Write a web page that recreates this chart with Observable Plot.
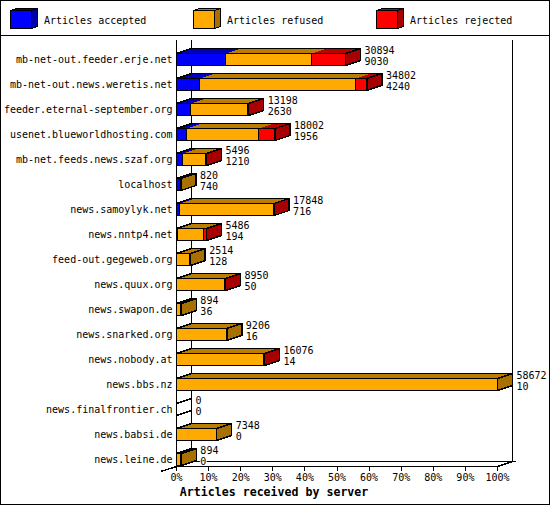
<!DOCTYPE html>
<html>
<head>
<meta charset="utf-8">
<script src="https://cdn.jsdelivr.net/npm/d3@7"></script>
<script src="https://cdn.jsdelivr.net/npm/@observablehq/plot@0.6"></script>
<style>
html, body { margin: 0; padding: 0; background: #fff; }
#page { position: relative; width: 550px; height: 505px; overflow: hidden; font-family: "DejaVu Sans Mono", monospace; font-size: 10px; color: #000; }
#legend { position: absolute; left: 0; top: 0; width: 550px; height: 36px; box-sizing: border-box; border-bottom: 1px solid #000; }
.key { position: absolute; top: 0; height: 35px; display: block; }
.key svg { position: absolute; left: 0; top: 0; }
.key span { position: absolute; left: 34px; top: 15px; line-height: 12px; white-space: nowrap; }
#chart { position: absolute; left: 0; top: 35px; }
#frame { position: absolute; inset: 0; box-sizing: border-box; border: 1px solid #000; pointer-events: none; }
</style>
</head>
<body>
<div id="page"><div id="legend"></div><div id="chart"></div><div id="frame"></div></div>
<script>
const servers = ["mb-net-out.feeder.erje.net","mb-net-out.news.weretis.net","feeder.eternal-september.org","usenet.blueworldhosting.com","mb-net.feeds.news.szaf.org","localhost","news.samoylyk.net","news.nntp4.net","feed-out.gegeweb.org","news.quux.org","news.swapon.de","news.snarked.org","news.nobody.at","news.bbs.nz","news.finalfrontier.ch","news.babsi.de","news.leine.de"];
const received = [30894,34802,13198,18002,5496,820,17848,5486,2514,8950,894,9206,16076,58672,0,7348,894];
const accepted = [9030,4240,2630,1956,1210,740,716,194,128,50,36,16,14,10,0,0,0];
const rejected = [6075,2000,40,2974,20,0,30,450,0,20,0,0,20,0,0,0,0];
const refused = received.map((r, i) => r - accepted[i] - rejected[i]);

const categories = ["Articles accepted","Articles refused","Articles rejected"];
const frontColors = ["#0000ff","#ffaa00","#ff0000"];
const topColors = ["#0000bb","#bb7d00","#bb0000"];
const sideColors = ["#0000a8","#a87000","#a80000"];
const legendLeft = [10, 193, 376];

const maxValue = d3.max(received);
const pct = v => v / maxValue * 100;
const depthX = 4.664;   // 15px of the 3-D depth, in percent
const depthY = 0.2;     // 5px of the 3-D depth, in rows
const barH = 0.48;
const yTop = -0.52, yBottom = 16.52;

// Legend
const legend = d3.select("#legend");
categories.forEach((c, k) => {
  const key = legend.append("div").attr("class", "key").style("left", legendLeft[k] + "px").style("width", "170px");
  const s = key.append("svg").attr("width", 30).attr("height", 35).attr("shape-rendering", "crispEdges");
  s.append("polygon").attr("points", "0.5,10.5 6.5,8.5 27.5,8.5 21.5,10.5").attr("fill", topColors[k]).attr("stroke", "#000");
  s.append("polygon").attr("points", "21.5,10.5 27.5,8.5 27.5,26.5 21.5,28.5").attr("fill", sideColors[k]).attr("stroke", "#000");
  s.append("rect").attr("x", 0.5).attr("y", 10.5).attr("width", 21).attr("height", 18).attr("fill", frontColors[k]).attr("stroke", "#000");
  key.append("span").text(c);
});

// Faces of every bar, in data units
const fronts = [], tops = [], sides = [], outlines = [];
const poly = (arr, id, pts, color) => pts.forEach(([x, y]) => arr.push({id, x, y, color}));
servers.forEach((name, i) => {
  const parts = [accepted[i], refused[i], rejected[i]];
  let start = 0, last = -1;
  parts.forEach((v, k) => {
    if (v <= 0) return;
    const a = pct(start), b = pct(start + v);
    fronts.push({x1: a, x2: b, y1: i, y2: i + barH, color: frontColors[k]});
    poly(tops, `${i}-${k}`, [[a,i],[a+depthX,i-depthY],[b+depthX,i-depthY],[b,i]], topColors[k]);
    start += v; last = k;
  });
  const end = pct(received[i]);
  poly(outlines, `${i}`, [[0,i],[depthX,i-depthY],[end+depthX,i-depthY],[end,i]], "none");
  poly(sides, `${i}`, [[end,i],[end+depthX,i-depthY],[end+depthX,i+barH-depthY],[end,i+barH]], last < 0 ? "white" : sideColors[last]);
});
const rows = servers.map((name, i) => ({name, i, end: pct(received[i]) + depthX, received: received[i], accepted: accepted[i]}));

const crisp = {shapeRendering: "crispEdges"};
const plot = Plot.plot({
  width: 550, height: 470,
  marginLeft: 176, marginRight: 53, marginTop: 5, marginBottom: 39,
  x: {domain: [0, 100], axis: null},
  y: {domain: [yBottom, yTop], axis: null},
  color: {type: "identity"},
  style: {fontFamily: "'DejaVu Sans Mono', monospace", fontSize: "10px", color: "#000", background: "transparent", overflow: "visible"},
  marks: [
    // walls and floor
    Plot.ruleX([depthX, 100 + depthX], {y1: yTop, y2: yBottom - depthY, stroke: "#000", ...crisp}),
    Plot.ruleX([0], {y1: yTop, y2: yBottom, stroke: "#000", ...crisp}),
    Plot.ruleY([yBottom - depthY], {x1: depthX, x2: 105.9, stroke: "#000", ...crisp}),
    Plot.ruleY([yBottom], {x1: 0, x2: 100, stroke: "#000", ...crisp}),
    Plot.line([{x:-depthX,y:yBottom+0.19},{x:0,y:yBottom}], {x:"x", y:"y", stroke:"#000", ...crisp}),
    Plot.line([{x:100,y:yBottom},{x:100+depthX,y:yBottom-depthY}], {x:"x", y:"y", stroke:"#000", ...crisp}),
    // bars
    Plot.line(tops, {x:"x", y:"y", z:"id", fill:"color", stroke:null, curve:"linear-closed", ...crisp}),
    Plot.line(outlines, {x:"x", y:"y", z:"id", fill:"none", stroke:"#000", curve:"linear-closed", ...crisp}),
    Plot.line(sides, {x:"x", y:"y", z:"id", fill:"color", stroke:"#000", curve:"linear-closed", ...crisp}),
    Plot.rect(fronts, {x1:"x1", x2:"x2", y1:"y1", y2:"y2", fill:"color", stroke:"#000", ...crisp}),
    // labels
    Plot.text(rows, {x: 0, y: d => d.i + 0.24, text: "name", textAnchor: "end", dx: -4, fill: "#000"}),
    Plot.text(rows, {x: "end", y: d => d.i - 0.12, text: d => String(d.received), textAnchor: "start", dx: 4, fill: "#000", stroke: "#fff", strokeWidth: 2, paintOrder: "stroke"}),
    Plot.text(rows, {x: "end", y: d => d.i + 0.32, text: d => String(d.accepted), textAnchor: "start", dx: 4, fill: "#000", stroke: "#fff", strokeWidth: 2, paintOrder: "stroke"}),
    Plot.axisX({ticks: d3.range(0, 101, 10), tickFormat: d => d + "%", tickSize: 5, tickPadding: 2, label: null, stroke: "#000", ...crisp}),
    Plot.text(["Articles received by server"], {x: 30.4, y: yBottom + 1.04, text: d => d, fontWeight: "bold", fontSize: 11.6, fill: "#000"})
  ]
});
document.getElementById("chart").append(plot);
</script>
</body>
</html>
